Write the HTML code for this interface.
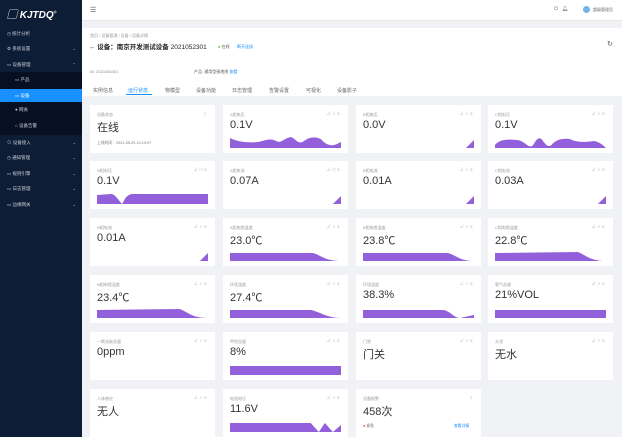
<!DOCTYPE html>
<html><head><meta charset="utf-8"><style>
*{margin:0;padding:0;box-sizing:border-box}
body{width:622px;height:437px;overflow:hidden;background:#f0f2f5;font-family:"Liberation Sans","Noto Sans CJK SC",sans-serif;position:relative}
.a{position:absolute}
.side{left:0;top:0;width:82px;height:437px;background:#0e1d36}
.mi{position:absolute;left:0;width:82px;height:15px;font-size:4.5px;color:#c8cdd6;line-height:15px;padding-left:7px}
.mi .ar{position:absolute;right:6px;top:0;font-size:4px}
.sub{background:#071022}
.sel{background:#1890ff;color:#fff}
.card{position:absolute;width:125px;height:48px;background:#fff}
.t{position:absolute;left:7px;top:7px;font-size:4px;color:#999}
.v{position:absolute;left:7px;top:14px;font-size:11px;color:#333}
.ic{position:absolute;right:7px;top:6px;font-size:4.5px;color:#aaa;letter-spacing:1.5px}
.card svg{position:absolute;left:7px;top:31px;width:111px;height:12px}
</style></head><body>
<div class="a side">
 <div class="a" style="left:7px;top:6px;color:#fff;font-size:10px;font-weight:bold;font-style:italic">▢ KJTDQ<sup style="font-size:4px">®</sup></div>
 <div class="mi" style="top:26px">◷ 统计分析</div>
 <div class="mi" style="top:41px">⚙ 系统设置<span class="ar">⌄</span></div>
 <div class="mi" style="top:57px">▭ 设备管理<span class="ar">⌃</span></div>
 <div class="mi sub" style="top:72px;height:17px;padding-left:15px">▭ 产品</div>
 <div class="mi sel" style="top:89px;height:13px;line-height:13px;padding-left:15px">▭ 设备</div>
 <div class="mi sub" style="top:102px;height:16px;padding-left:15px">● 网关</div>
 <div class="mi sub" style="top:118px;height:17px;padding-left:15px">⌂ 设备告警</div>
 <div class="mi" style="top:135px">⊙ 设备接入<span class="ar">⌄</span></div>
 <div class="mi" style="top:150px">◷ 通知管理<span class="ar">⌄</span></div>
 <div class="mi" style="top:166px">▭ 规则引擎<span class="ar">⌄</span></div>
 <div class="mi" style="top:181px">▭ 日志管理<span class="ar">⌄</span></div>
 <div class="mi" style="top:197px">▭ 边缘网关<span class="ar">⌄</span></div>
</div>
<div class="a" style="left:82px;top:0;width:540px;height:21px;background:#fff;border-bottom:1px solid #e8e8e8">
 <div class="a" style="left:8px;top:6px;font-size:7px;color:#555">☰</div>
 <div class="a" style="left:472px;top:6px;font-size:5px;color:#666">⏻ &nbsp;&nbsp;🔔︎</div>
 <div class="a" style="left:501px;top:6px;width:7px;height:7px;border-radius:50%;background:#74b4e6"></div>
 <div class="a" style="left:511px;top:7px;font-size:4px;color:#666">超级管理员</div>
</div>
<div class="a" style="left:82px;top:28px;width:540px;height:68px;background:#fff">
 <div class="a" style="left:8px;top:5px;font-size:4px;color:#999">首页 / 设备管理 / 设备 / 设备详情</div>
 <div class="a" style="left:7px;top:13px;font-size:6.5px;color:#222;font-weight:bold;white-space:nowrap">← 设备：南京开发测试设备 <span style="font-weight:normal">2021052301</span></div>
 <div class="a" style="left:136px;top:16px;font-size:4px;color:#555"><span style="color:#52c41a">●</span> 在线</div>
 <div class="a" style="left:155px;top:16px;font-size:4px;color:#1890ff">断开连接</div>
 <div class="a" style="left:525px;top:12px;font-size:7px;color:#555">↻</div>
 <div class="a" style="left:8px;top:41px;font-size:4px;color:#888">ID: 2021052301</div>
 <div class="a" style="left:112px;top:41px;font-size:4px;color:#555">产品: 通用型接地线 <span style="color:#1890ff">查看</span></div>
 <div class="a" style="left:11px;top:59px;font-size:5px;color:#666;word-spacing:0">实例信息</div>
 <div class="a" style="left:46px;top:59px;font-size:5px;color:#1890ff">运行状态</div>
 <div class="a" style="left:44px;top:66px;width:26px;height:1px;background:#1890ff"></div>
 <div class="a" style="left:83px;top:59px;font-size:5px;color:#666">物模型</div>
 <div class="a" style="left:114px;top:59px;font-size:5px;color:#666">设备功能</div>
 <div class="a" style="left:150px;top:59px;font-size:5px;color:#666">日志管理</div>
 <div class="a" style="left:187px;top:59px;font-size:5px;color:#666">告警设置</div>
 <div class="a" style="left:224px;top:59px;font-size:5px;color:#666">可视化</div>
 <div class="a" style="left:255px;top:59px;font-size:5px;color:#666">设备影子</div>
</div>

<!-- row1 -->
<div class="card" style="left:90px;top:105px"><div class="t">设备状态</div><div class="ic">○</div><div class="v">在线</div><div class="a" style="left:7px;top:36px;font-size:3.8px;color:#777">上线时间：2021-05-29 10:19:07</div></div>
<div class="card" style="left:223px;top:105px"><div class="t">A相电压</div><div class="ic">∠○≡</div><div class="v">0.1V</div><svg viewBox="0 0 110 12" preserveAspectRatio="none"><path d="M0 2 C8 6 18 7 28 6 C36 4 40 2 46 5 C50 8 54 2 60 1 C65 2 66 8 72 6 C78 1 84 0 90 3 C94 8 100 11 106 8 L110 6 L110 12 L0 12Z" fill="#9360dc"/></svg></div>
<div class="card" style="left:356px;top:105px"><div class="t">B相电压</div><div class="ic">∠○≡</div><div class="v">0.0V</div><svg viewBox="0 0 110 12" preserveAspectRatio="none"><path d="M102 12 L110 4 L110 12Z" fill="#9360dc"/></svg></div>
<div class="card" style="left:488px;top:105px"><div class="t">C相电压</div><div class="ic">∠○≡</div><div class="v">0.1V</div><svg viewBox="0 0 110 12" preserveAspectRatio="none"><path d="M0 9 C4 4 10 3 22 4 C30 5 32 12 37 10 C40 6 42 0 46 3 C50 8 52 12 56 9 C60 4 66 2 74 3 C82 7 90 6 98 5 C104 6 108 10 110 12 L0 12Z" fill="#9360dc"/></svg></div>
<!-- row2 -->
<div class="card" style="left:90px;top:161px"><div class="t">N相电压</div><div class="ic">∠□≡</div><div class="v">0.1V</div><svg viewBox="0 0 110 12" preserveAspectRatio="none"><path d="M0 3 L14 2 C18 2 20 7 25 12 C28 6 30 2 36 2 L110 2 L110 12 L0 12Z" fill="#9360dc"/></svg></div>
<div class="card" style="left:223px;top:161px"><div class="t">A相电流</div><div class="ic">∠□≡</div><div class="v">0.07A</div><svg viewBox="0 0 110 12" preserveAspectRatio="none"><path d="M102 12 L110 4 L110 12Z" fill="#9360dc"/></svg></div>
<div class="card" style="left:356px;top:161px"><div class="t">B相电流</div><div class="ic">∠○≡</div><div class="v">0.01A</div><svg viewBox="0 0 110 12" preserveAspectRatio="none"><path d="M102 12 L110 4 L110 12Z" fill="#9360dc"/></svg></div>
<div class="card" style="left:488px;top:161px"><div class="t">C相电流</div><div class="ic">∠○≡</div><div class="v">0.03A</div><svg viewBox="0 0 110 12" preserveAspectRatio="none"><path d="M102 12 L110 4 L110 12Z" fill="#9360dc"/></svg></div>
<!-- row3 -->
<div class="card" style="left:90px;top:218px"><div class="t">N相电流</div><div class="ic">∠○≡</div><div class="v">0.01A</div><svg viewBox="0 0 110 12" preserveAspectRatio="none"><path d="M102 12 L110 4 L110 12Z" fill="#9360dc"/></svg></div>
<div class="card" style="left:223px;top:218px"><div class="t">A相电缆温度</div><div class="ic">∠○≡</div><div class="v">23.0℃</div><svg viewBox="0 0 110 12" preserveAspectRatio="none"><path d="M0 4 L82 4 C90 6 94 12 110 12 L0 12Z" fill="#9360dc"/></svg></div>
<div class="card" style="left:356px;top:218px"><div class="t">B相电缆温度</div><div class="ic">∠○≡</div><div class="v">23.8℃</div><svg viewBox="0 0 110 12" preserveAspectRatio="none"><path d="M0 4 L84 4 C92 6 96 12 110 12 L0 12Z" fill="#9360dc"/></svg></div>
<div class="card" style="left:488px;top:218px"><div class="t">C相电缆温度</div><div class="ic">∠○≡</div><div class="v">22.8℃</div><svg viewBox="0 0 110 12" preserveAspectRatio="none"><path d="M0 4 L82 3 C90 6 94 12 110 12 L0 12Z" fill="#9360dc"/></svg></div>
<!-- row4 -->
<div class="card" style="left:90px;top:275px"><div class="t">N相电缆温度</div><div class="ic">∠○≡</div><div class="v">23.4℃</div><svg viewBox="0 0 110 12" preserveAspectRatio="none"><path d="M0 4 L82 3 C90 6 94 12 110 12 L0 12Z" fill="#9360dc"/></svg></div>
<div class="card" style="left:223px;top:275px"><div class="t">环境温度</div><div class="ic">∠○≡</div><div class="v">27.4℃</div><svg viewBox="0 0 110 12" preserveAspectRatio="none"><path d="M0 4 L80 4 C90 6 96 12 110 12 L0 12Z" fill="#9360dc"/></svg></div>
<div class="card" style="left:356px;top:275px"><div class="t">环境湿度</div><div class="ic">∠○≡</div><div class="v">38.3%</div><svg viewBox="0 0 110 12" preserveAspectRatio="none"><path d="M0 4 L80 4 C88 6 90 12 96 12 L110 9 L110 12 L0 12Z" fill="#9360dc"/></svg></div>
<div class="card" style="left:488px;top:275px"><div class="t">氧气含量</div><div class="ic">∠○≡</div><div class="v">21%VOL</div><svg viewBox="0 0 110 12" preserveAspectRatio="none"><path d="M0 4 L110 4 L110 12 L0 12Z" fill="#9360dc"/></svg></div>
<!-- row5 -->
<div class="card" style="left:90px;top:332px"><div class="t">一氧化碳含量</div><div class="ic">∠○≡</div><div class="v">0ppm</div></div>
<div class="card" style="left:223px;top:332px"><div class="t">甲烷含量</div><div class="ic">∠○≡</div><div class="v">8%</div><svg viewBox="0 0 110 12" preserveAspectRatio="none"><path d="M0 3 L110 3 L110 12 L0 12Z" fill="#9360dc"/></svg></div>
<div class="card" style="left:356px;top:332px"><div class="t">门禁</div><div class="ic">∠○≡</div><div class="v">门关</div></div>
<div class="card" style="left:488px;top:332px"><div class="t">水浸</div><div class="ic">∠○≡</div><div class="v">无水</div></div>
<!-- row6 -->
<div class="card" style="left:90px;top:389px"><div class="t">人体感应</div><div class="ic">∠○≡</div><div class="v">无人</div></div>
<div class="card" style="left:223px;top:389px"><div class="t">电池电压</div><div class="ic">∠○≡</div><div class="v">11.6V</div><svg viewBox="0 0 110 12" preserveAspectRatio="none"><path d="M0 3 L80 3 L88 12 L94 3 L102 12 L110 5 L110 12 L0 12Z" fill="#9360dc"/></svg></div>
<div class="card" style="left:356px;top:389px"><div class="t">设备报警</div><div class="ic">○</div><div class="v">458次</div><div class="a" style="left:7px;top:35px;font-size:3.8px;color:#666"><span style="color:#f5222d">●</span> 紧急</div><div class="a" style="left:98px;top:35px;font-size:3.8px;color:#1890ff">查看详情</div></div>
</body></html>
